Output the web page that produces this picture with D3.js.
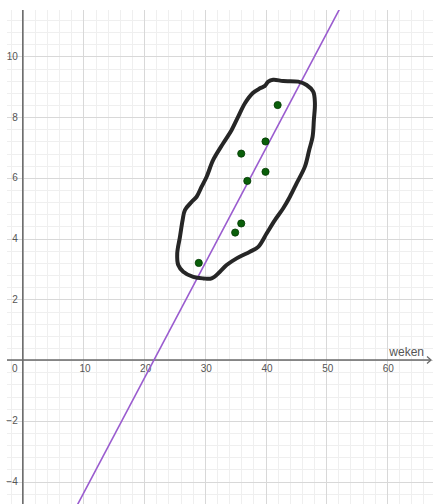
<!DOCTYPE html>
<html>
<head>
<meta charset="utf-8">
<script src="https://cdn.jsdelivr.net/npm/d3@7"></script>
<style>
  html, body { margin: 0; padding: 0; background: #fff; }
  svg { display: block; }
  text { font-family: "Liberation Sans", Arial, sans-serif; }
</style>
</head>
<body>
<svg id="chart" width="433" height="504"></svg>
<script>
// ---- data ----
const pointsX = [42, 40, 36, 40, 37, 36, 35, 29];
const pointsY = [8.4, 7.2, 6.8, 6.2, 5.9, 4.5, 4.2, 3.2];

const trendSlope = 0.378;
const trendIntercept = -8.17;

const blobX = [25.45, 25.90, 26.34, 26.72, 27.83, 28.65, 29.47, 30.30, 31.38, 33.03, 34.42, 35.50, 36.61, 37.87, 39.08, 39.90, 40.45, 41.27, 42.92, 45.39, 46.77, 47.86, 48.14, 47.97, 47.76, 47.20, 46.49, 45.12, 44.02, 42.92, 41.55, 40.18, 38.80, 37.43, 35.24, 33.59, 32.49, 31.12, 29.74, 28.09, 26.44, 25.62];
const blobY = [3.51, 4.06, 4.61, 4.94, 5.21, 5.38, 5.71, 6.04, 6.59, 7.14, 7.58, 8.02, 8.46, 8.79, 8.95, 9.03, 9.17, 9.23, 9.19, 9.17, 9.06, 8.84, 8.46, 7.91, 7.36, 6.92, 6.37, 5.82, 5.38, 5.00, 4.61, 4.17, 3.73, 3.57, 3.35, 3.13, 2.91, 2.69, 2.69, 2.74, 2.91, 3.13];

const xTickLabels = [10, 20, 30, 40, 50, 60];
const yTickLabels = [-4, -2, 2, 4, 6, 8, 10];
const xAxisLabel = "weken";

// ---- scales ----
const svg = d3.select("#chart");
const x = d3.scaleLinear().domain([-2.6, 67.6]).range([7, 433]);
const y = d3.scaleLinear().domain([11.53, -4.74]).range([10, 504]);

const [x0, x1] = x.range();
const [y0, y1] = y.range();

svg.append("defs").append("clipPath").attr("id", "plot")
  .append("rect").attr("x", x0).attr("y", y0).attr("width", x1 - x0).attr("height", y1 - y0);

// ---- grid ----
const minorX = d3.range(-2, 68, 2);
const minorY = d3.range(-4.4, 11.6, 0.4).map(v => Math.round(v * 10) / 10);
const majorX = d3.range(-0, 70, 10);
const majorY = d3.range(-4, 12, 2);

const grid = svg.append("g").attr("shape-rendering", "crispEdges");
grid.selectAll(".mx").data(minorX).join("line")
  .attr("x1", d => Math.round(x(d)) + 0.5).attr("x2", d => Math.round(x(d)) + 0.5)
  .attr("y1", y0).attr("y2", y1).attr("stroke", "#efefef");
grid.selectAll(".my").data(minorY).join("line")
  .attr("y1", d => Math.round(y(d)) + 0.5).attr("y2", d => Math.round(y(d)) + 0.5)
  .attr("x1", x0).attr("x2", x1).attr("stroke", "#efefef");
grid.selectAll(".Mx").data(majorX).join("line")
  .attr("x1", d => Math.round(x(d)) + 0.5).attr("x2", d => Math.round(x(d)) + 0.5)
  .attr("y1", y0).attr("y2", y1).attr("stroke", "#d8d8d8");
grid.selectAll(".My").data(majorY).join("line")
  .attr("y1", d => Math.round(y(d)) + 0.5).attr("y2", d => Math.round(y(d)) + 0.5)
  .attr("x1", x0).attr("x2", x1).attr("stroke", "#d8d8d8");

// ---- axes ----
const axisColor = "#6a6a6a";
svg.append("line").attr("x1", x0).attr("x2", x1 - 2).attr("y1", y(0)).attr("y2", y(0))
  .attr("stroke", axisColor).attr("stroke-width", 1.5);
svg.append("path")
  .attr("d", `M${x1 - 6},${y(0) - 3.5} L${x1 - 2},${y(0)} L${x1 - 6},${y(0) + 3.5}`)
  .attr("fill", "none").attr("stroke", axisColor).attr("stroke-width", 1.3);
svg.append("line").attr("x1", x(0)).attr("x2", x(0)).attr("y1", y0).attr("y2", y1)
  .attr("stroke", axisColor).attr("stroke-width", 1.5);

const fmt = d3.format("");
svg.selectAll(".xl").data(xTickLabels).join("text")
  .attr("x", d => x(d) + 1.5).attr("y", y(0) + 12)
  .attr("text-anchor", "middle").attr("font-size", 10).attr("fill", "#555")
  .text(d => fmt(d));
svg.append("text").attr("x", x(0) - 8).attr("y", y(0) + 12)
  .attr("text-anchor", "middle").attr("font-size", 10).attr("fill", "#555").text("0");
svg.selectAll(".yl").data(yTickLabels).join("text")
  .attr("x", x(0) - 5).attr("y", d => y(d) + 3.5)
  .attr("text-anchor", "end").attr("font-size", 10).attr("fill", "#555")
  .text(d => fmt(d));
svg.append("text").attr("x", x1 - 9).attr("y", y(0) - 4)
  .attr("text-anchor", "end").attr("font-size", 12).attr("fill", "#555").text(xAxisLabel);

// ---- trend line ----
const plot = svg.append("g").attr("clip-path", "url(#plot)");
const lx = x.domain();
plot.append("line")
  .attr("x1", x(lx[0])).attr("y1", y(trendSlope * lx[0] + trendIntercept))
  .attr("x2", x(lx[1])).attr("y2", y(trendSlope * lx[1] + trendIntercept))
  .attr("stroke", "#9a5ccf").attr("stroke-width", 1.6);

// ---- blob ----
const blob = blobX.map((v, i) => [v, blobY[i]]);
plot.append("path")
  .attr("d", d3.line().x(d => x(d[0])).y(d => y(d[1])).curve(d3.curveCatmullRomClosed.alpha(0.5))(blob))
  .attr("fill", "none").attr("stroke", "#262626").attr("stroke-width", 4)
  .attr("stroke-linejoin", "round").attr("stroke-linecap", "round");

// ---- points ----
plot.selectAll(".pt").data(pointsX.map((v, i) => [v, pointsY[i]])).join("circle")
  .attr("cx", d => x(d[0])).attr("cy", d => y(d[1])).attr("r", 3.6)
  .attr("fill", "#0a5f0a").attr("stroke", "#033a03").attr("stroke-width", 0.8);
</script>
</body>
</html>
